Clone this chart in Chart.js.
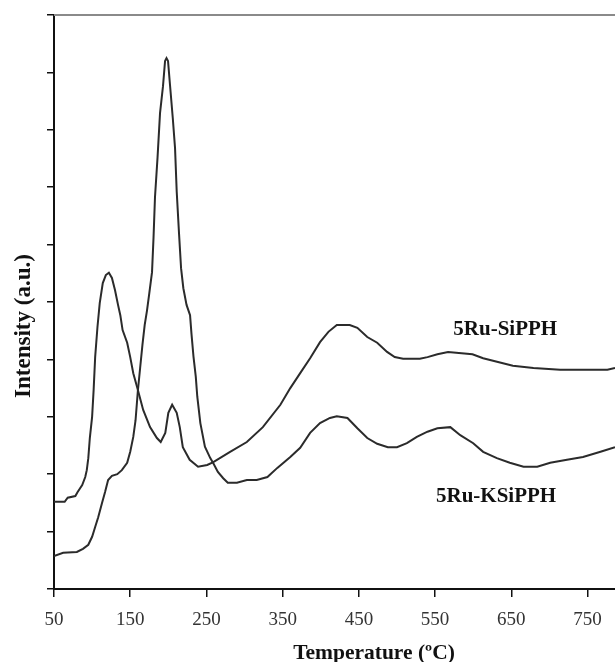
<!DOCTYPE html>
<html><head><meta charset="utf-8">
<script src="https://cdn.jsdelivr.net/npm/chart.js@4.4.1/dist/chart.umd.min.js"></script>
<style>html,body{margin:0;padding:0;background:#fff}#wrap{width:615px;height:662px;position:relative}</style>
</head><body><div id="wrap"><canvas id="c" width="615" height="662"></canvas></div>
<script>
// 5Ru-SiPPH
const tempSi = [50,64,68,78,81,87,91,93,95,97,100,102,104,107,110,114,118,122,126,130,134,137,140,146,150,154,159,167,176,185,190,196,200,205,211,215,219,228,239,251,259,281,303,324,347,360,373,386,399,410,421,438,448,461,474,487,497,508,530,540,553,567,599,613,652,679,714,776,786];
const intSi  = [1.52,1.52,1.59,1.62,1.69,1.81,1.95,2.07,2.28,2.63,3.00,3.47,4.04,4.56,4.98,5.33,5.47,5.51,5.42,5.21,4.95,4.77,4.51,4.29,4.04,3.76,3.52,3.12,2.82,2.63,2.56,2.72,3.07,3.21,3.07,2.82,2.47,2.25,2.13,2.16,2.21,2.39,2.56,2.82,3.21,3.50,3.76,4.02,4.30,4.48,4.60,4.60,4.55,4.39,4.29,4.13,4.04,4.01,4.01,4.04,4.09,4.13,4.09,4.02,3.89,3.85,3.82,3.82,3.85];
// 5Ru-KSiPPH
const tempK = [50,62,80,88,95,100,104,108,113,117,121,126,133,139,146,150,154,157,160,163,166,169,172,175,178.6,180.6,182.5,185.8,189.1,193,195.7,197.6,199.6,202.2,205.8,208.8,211,214,216.7,219.7,223.9,228.5,230.4,233,236,238,242,248,255,259,265,272,278,290,303,316,330,343,360,373,386,399,412,421,435,448,461,474,488,500,513,526,540,553,570,583,600,613,631,648,666,684,701,723,744,767,786];
const intK  = [0.575,0.63,0.645,0.70,0.77,0.91,1.08,1.25,1.50,1.69,1.90,1.97,2.00,2.07,2.20,2.39,2.65,2.94,3.45,3.85,4.25,4.60,4.85,5.15,5.52,6.13,6.83,7.51,8.29,8.76,9.20,9.25,9.20,8.78,8.21,7.68,6.92,6.20,5.59,5.24,4.95,4.77,4.44,4.05,3.70,3.35,2.89,2.48,2.28,2.19,2.04,1.93,1.85,1.85,1.90,1.90,1.95,2.11,2.30,2.46,2.72,2.89,2.98,3.01,2.98,2.80,2.63,2.53,2.47,2.47,2.54,2.65,2.74,2.80,2.82,2.68,2.54,2.39,2.28,2.20,2.13,2.13,2.20,2.25,2.30,2.39,2.47];

const xTicks = [50,150,250,350,450,550,650,750];
const seriesNames = ['5Ru-SiPPH','5Ru-KSiPPH'];
const labelT = [642,630];
const labelV = [4.43,1.52];
const xTitle = 'Temperature (\u00BAC)';
const yTitle = 'Intensity (a.u.)';

const FONT = '"Liberation Serif", "Times New Roman", serif';

const annot = {
  id: 'annot',
  afterDraw(chart) {
    const {ctx, chartArea: a, scales: {x, y}} = chart;
    ctx.save();
    ctx.strokeStyle = '#8a8a8a';
    ctx.lineWidth = 2;
    ctx.beginPath(); ctx.moveTo(a.left, a.top); ctx.lineTo(a.right, a.top); ctx.stroke();
    ctx.fillStyle = '#111';
    ctx.font = 'bold 21px ' + FONT;
    ctx.textAlign = 'center';
    ctx.textBaseline = 'alphabetic';
    seriesNames.forEach((n, i) => ctx.fillText(n, x.getPixelForValue(labelT[i]), y.getPixelForValue(labelV[i])));
    ctx.font = 'bold 21.5px ' + FONT;
    ctx.fillText(xTitle, 374, 659);
    ctx.font = 'bold 23px ' + FONT;
    ctx.translate(30, 326);
    ctx.rotate(-Math.PI / 2);
    ctx.fillText(yTitle, 0, 0);
    ctx.restore();
  }
};

const lineStyle = {borderColor: '#2b2b2b', borderWidth: 2, pointRadius: 0, tension: 0, fill: false};

new Chart(document.getElementById('c'), {
  type: 'line',
  data: {
    datasets: [
      Object.assign({label: seriesNames[0], data: tempSi.map((t, i) => ({x: t, y: intSi[i]}))}, lineStyle),
      Object.assign({label: seriesNames[1], data: tempK.map((t, i) => ({x: t, y: intK[i]}))}, lineStyle)
    ]
  },
  options: {
    responsive: false,
    animation: false,
    devicePixelRatio: 1,
    layout: {padding: {top: 15, right: 0, left: 0, bottom: 0}},
    plugins: {legend: {display: false}, tooltip: {enabled: false}},
    scales: {
      x: {
        type: 'linear', min: 50, max: 786,
        afterBuildTicks: s => { s.ticks = xTicks.map(v => ({value: v})); },
        afterFit: s => { s.height = 73; },
        grid: {drawOnChartArea: false, drawTicks: true, tickLength: 8, color: '#111', lineWidth: 1.5},
        border: {display: true, color: '#111', width: 2},
        ticks: {font: {family: FONT, size: 19}, color: '#333', padding: 12, maxRotation: 0, autoSkip: false}
      },
      y: {
        type: 'linear', min: 0, max: 10,
        afterFit: s => { s.width = 54; },
        grid: {drawOnChartArea: false, drawTicks: true, tickLength: 7, color: '#111', lineWidth: 1.5},
        border: {display: true, color: '#111', width: 2},
        ticks: {stepSize: 1, callback: () => '', padding: 0}
      }
    }
  },
  plugins: [annot]
});
</script>
</body></html>
